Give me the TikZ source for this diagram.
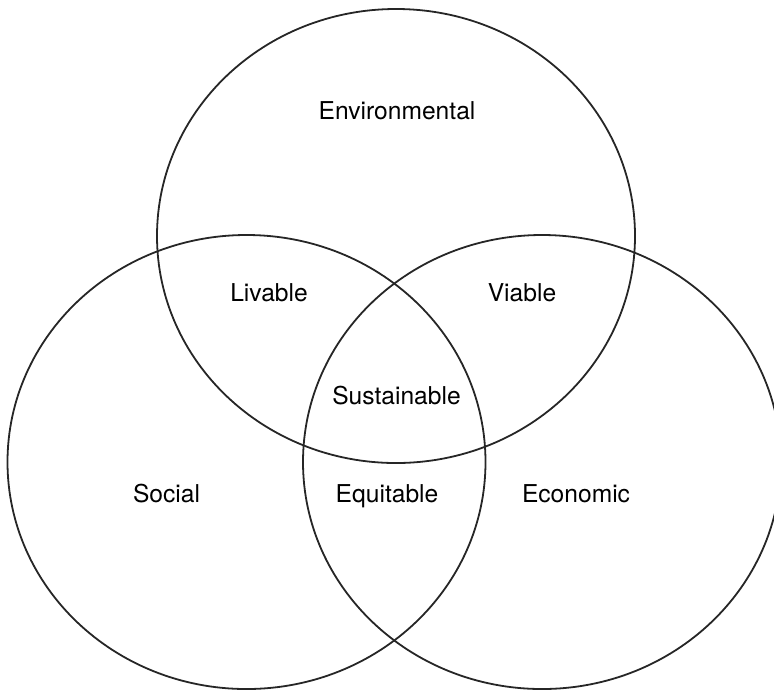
\documentclass[tikz,border=0pt]{standalone}
\usepackage{fontspec}
\setmainfont{TeX Gyre Heros}
\usetikzlibrary{shapes.geometric}

\begin{document}
\begin{tikzpicture}[
    x=0.5pt, y=-0.5pt,
    font=\fontsize{12.3}{14}\selectfont,
    set/.style={draw=black!85, line width=0.9pt, ellipse, inner sep=0pt, minimum width=239pt, minimum height=227pt},
    label/.style={inner sep=0pt, text height=0.72em, text depth=0pt, anchor=center}
]
    \useasboundingbox (0,0) rectangle (774,692);

    % Sets
    \node[set] (env) at (396,236) {};
    \node[set] (soc) at (246.5,462) {};
    \node[set] (eco) at (542,462) {};

    % Labels
    \node[label] (envlabel) at (397,112) {Environmental};
    \node[label] (soclabel) at (166.5,495) {Social};
    \node[label] (ecolabel) at (576,495) {Economic};
    \node[label] (livable) at (269,294) {Livable};
    \node[label] (viable) at (522,294) {Viable};
    \node[label] (equitable) at (387,495) {Equitable};
    \node[label] (sustainable) at (396.5,397) {Sustainable};

\end{tikzpicture}
\end{document}
